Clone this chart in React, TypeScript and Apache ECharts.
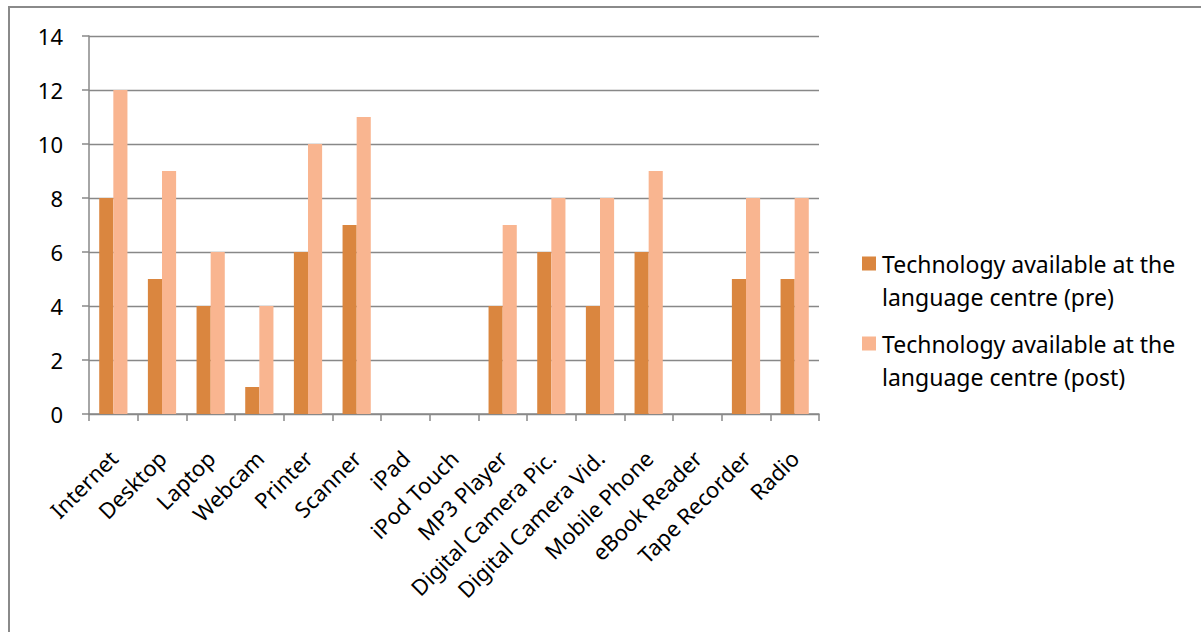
import React, { useEffect, useRef } from "react";
import * as echarts from "echarts";

const categories = [
  "Internet",
  "Desktop",
  "Laptop",
  "Webcam",
  "Printer",
  "Scanner",
  "iPad",
  "iPod Touch",
  "MP3 Player",
  "Digital Camera Pic.",
  "Digital Camera Vid.",
  "Mobile Phone",
  "eBook Reader",
  "Tape Recorder",
  "Radio",
];
const preValues = [8, 5, 4, 1, 6, 7, 0, 0, 4, 6, 4, 6, 0, 5, 5];
const postValues = [12, 9, 6, 4, 10, 11, 0, 0, 7, 8, 8, 9, 0, 8, 8];
const seriesNames = [
  "Technology available at the language centre (pre)",
  "Technology available at the language centre (post)",
];
const yTicks = { min: 0, max: 14, interval: 2 };

const FONT = "'Noto Sans', 'DejaVu Sans', sans-serif";

export default function App() {
  const ref = useRef<HTMLDivElement>(null);
  useEffect(() => {
    if (!ref.current) return;
    const chart = echarts.init(ref.current, null, { renderer: "svg" });
    const icon = "path://M0,0h14v14h-14z M0,47z";
    chart.setOption({
      animation: false,
      backgroundColor: "#ffffff",
      textStyle: { fontFamily: FONT },
      graphic: [
        {
          type: "rect",
          shape: { x: 9, y: 7, width: 1400, height: 1000 },
          style: { fill: "none", stroke: "#8a8a8a", lineWidth: 2 },
          silent: true,
        },
      ],
      grid: { left: 89, right: 382, top: 36, bottom: 218, containLabel: false },
      legend: {
        orient: "vertical",
        left: 862,
        top: 247,
        padding: 0,
        itemGap: 14,
        itemWidth: 14,
        itemHeight: 47,
        icon: icon,
        itemStyle: { borderWidth: 0 },
        formatter: (name: string) => name.replace(" at the ", " at the\n"),
        textStyle: {
          fontFamily: FONT,
          fontSize: 23,
          color: "#000000",
          lineHeight: 33,
          padding: [0, 0, 0, 1],
        },
        data: seriesNames,
      },
      xAxis: {
        type: "category",
        data: categories,
        axisLine: { lineStyle: { color: "#888888", width: 1.5 } },
        axisTick: { show: true, length: 7, lineStyle: { color: "#888888", width: 1.5 } },
        axisLabel: {
          interval: 0,
          rotate: 45,
          margin: 40,
          fontSize: 22,
          color: "#000000",
          fontFamily: FONT,
        },
      },
      yAxis: {
        type: "value",
        min: yTicks.min,
        max: yTicks.max,
        interval: yTicks.interval,
        axisLine: { show: true, lineStyle: { color: "#888888", width: 1.5 } },
        axisTick: { show: true, length: 7, lineStyle: { color: "#888888", width: 1.5 } },
        splitLine: { lineStyle: { color: "#888888", width: 1.3 } },
        axisLabel: { margin: 26, fontSize: 22, color: "#000000", fontFamily: FONT },
      },
      series: [
        {
          name: seriesNames[0],
          type: "bar",
          data: preValues,
          barGap: "0%",
          barCategoryGap: "42%",
          itemStyle: { color: "#da863f" },
        },
        {
          name: seriesNames[1],
          type: "bar",
          data: postValues,
          barGap: "0%",
          barCategoryGap: "42%",
          itemStyle: { color: "#f9b590" },
        },
      ],
    });
    return () => chart.dispose();
  }, []);
  return (
    <div
      ref={ref}
      style={{ position: "fixed", left: 0, top: 0, width: 1201, height: 632 }}
    />
  );
}
